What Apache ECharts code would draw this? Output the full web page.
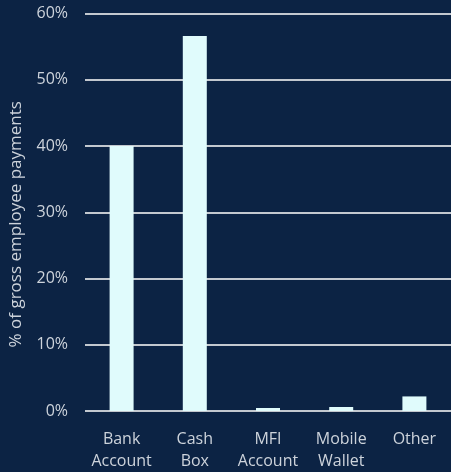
<!DOCTYPE html>
<html>
<head>
<meta charset="utf-8">
<script src="https://cdn.jsdelivr.net/npm/echarts@6/dist/echarts.min.js"></script>
<style>
  html, body { margin: 0; padding: 0; background: #0c2344; }
  #chart { width: 451px; height: 472px; }
</style>
</head>
<body>
<div id="chart"></div>
<script>
// Payment channels and their share of gross employee payments (%)
const categories = ['Bank\nAccount', 'Cash\nBox', 'MFI\nAccount', 'Mobile\nWallet', 'Other'];
const shares = [40, 56.6, 0.45, 0.6, 2.2];
const yTicks = { min: 0, max: 60, interval: 10 };

const textColor = '#cdd3db';
const fontFamily = '"Open Sans", Lato, sans-serif';

const chart = echarts.init(document.getElementById('chart'));
chart.setOption({
  backgroundColor: '#0c2344',
  animation: false,
  grid: { left: 84, right: 0, top: 13.5, bottom: 59, containLabel: false },
  xAxis: {
    type: 'category',
    data: categories,
    axisLine: { show: false },
    axisTick: { show: false },
    axisLabel: {
      color: textColor,
      fontFamily: fontFamily,
      fontSize: 16,
      lineHeight: 22,
      margin: 17,
      interval: 0
    }
  },
  yAxis: {
    type: 'value',
    min: yTicks.min,
    max: yTicks.max,
    interval: yTicks.interval,
    name: '% of gross employee payments',
    nameLocation: 'middle',
    nameGap: 60,
    nameTextStyle: {
      color: textColor,
      fontFamily: fontFamily,
      fontSize: 17,
      padding: [0, 24, 0, 0]
    },
    axisLine: { show: false },
    axisTick: { show: false },
    axisLabel: {
      color: textColor,
      fontFamily: fontFamily,
      fontSize: 16,
      margin: 17,
      formatter: v => v + '%'
    },
    splitLine: { lineStyle: { color: '#c3c8cf', width: 2 } }
  },
  series: [{
    type: 'bar',
    data: shares,
    barWidth: 24,
    itemStyle: { color: '#e0fbfc' }
  }]
});
</script>
</body>
</html>
